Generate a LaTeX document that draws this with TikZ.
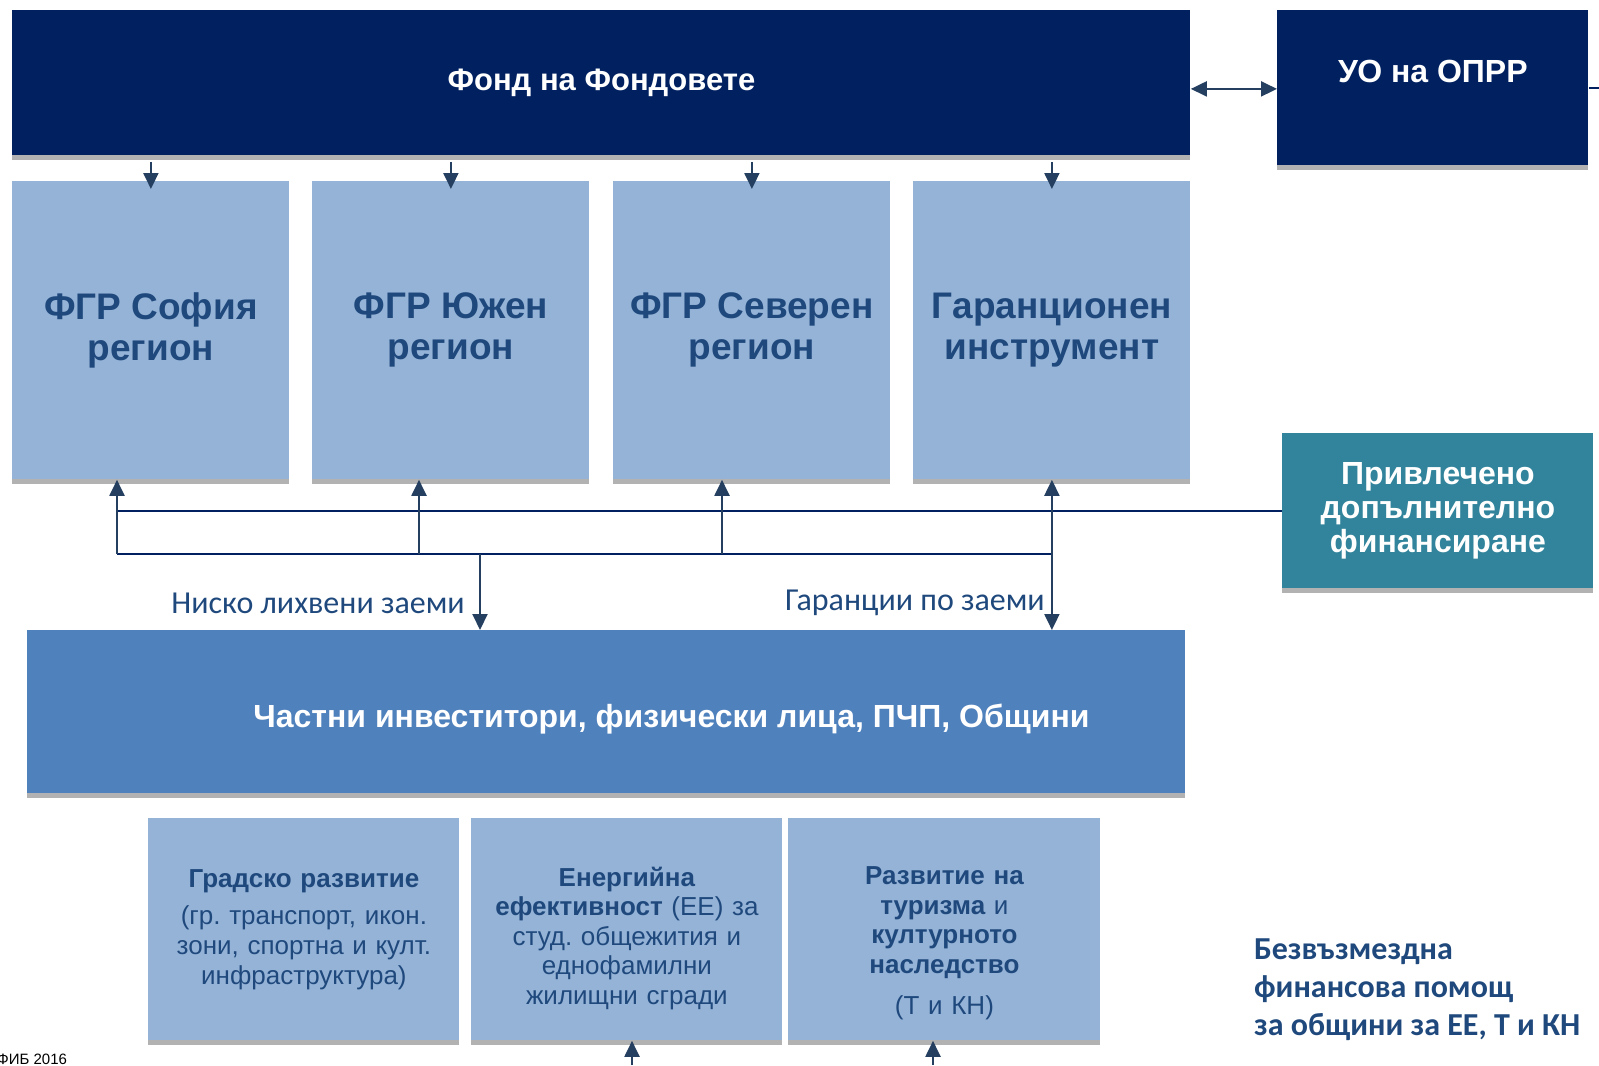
\documentclass[tikz,border=0pt]{standalone}
\usepackage{fontspec}
\setmainfont{Liberation Sans}
\newfontfamily\calfont{Carlito}
\usetikzlibrary{positioning, arrows.meta, shadows}
\definecolor{navyfill}{HTML}{002060}
\definecolor{lightfill}{HTML}{95B3D7}
\definecolor{midfill}{HTML}{4F81BD}
\definecolor{tealfill}{HTML}{31849B}
\definecolor{darktext}{HTML}{1F497D}
\definecolor{arrowc}{HTML}{243F60}
\frenchspacing

\begin{document}
\begin{tikzpicture}[x=0.5pt, y=-0.5pt,
    boxshade/.style={drop shadow={shadow xshift=0pt, shadow yshift=-2.5pt, fill=black!30, opacity=1}},
    anybox/.style={boxshade, anchor=north west, inner sep=0pt, align=center},
    navybox/.style={anybox, fill=navyfill, text=white, font=\bfseries\fontsize{15.5}{18}\selectfont},
    fundbox/.style={anybox, fill=lightfill, text=darktext, minimum width=138.5pt, minimum height=149pt,
        font=\bfseries\fontsize{18.5}{20.5}\selectfont},
    areabox/.style={anybox, fill=lightfill, minimum height=111pt},
    areatext/.style={text=darktext, text width=152pt, align=center, inner sep=0pt,
        font=\fontsize{13}{14.8}\selectfont},
    arr/.style={draw=arrowc, line width=1pt, -{Triangle[width=7.5pt,length=8pt]}},
    darr/.style={arr, {Triangle[width=7.5pt,length=8pt]}-{Triangle[width=7.5pt,length=8pt]}},
    navyline/.style={draw=navyfill, line width=1.2pt},
    lab/.style={text=darktext, font=\calfont\fontsize{16}{19}\selectfont, inner sep=0pt}]
    \useasboundingbox (0,0) rectangle (1599,1065);

    \node[navybox, minimum width=589pt, minimum height=72.5pt] (fond) at (12,10) {Фонд на Фондовете};
    \node[navybox, minimum width=155.5pt, minimum height=77.5pt,
        label={[text=white, font=\bfseries\fontsize{16}{19}\selectfont, yshift=8pt]center:УО на ОПРР}] (uo) at (1277,10) {};

    \node[fundbox] (b1) at (12,181)  {ФГР София\\регион};
    \node[fundbox] (b2) at (312,181) {ФГР Южен\\регион};
    \node[fundbox] (b3) at (613,181) {ФГР Северен\\регион};
    \node[fundbox] (b4) at (913,181) {Гаранционен\\инструмент};

    \node[anybox, fill=tealfill, text=white, minimum width=155.5pt, minimum height=77.5pt,
        font=\bfseries\fontsize{16}{17}\selectfont] (extra) at (1282,433) {Привлечено\\допълнително\\финансиране};

    \node[anybox, fill=midfill, minimum width=579pt, minimum height=81.5pt,
        label={[text=white, font=\bfseries\fontsize{16}{19}\selectfont, xshift=32.5pt, yshift=-3.75pt]center:Частни инвеститори, физически лица, ПЧП, Общини}] (inv) at (27,630) {};

    \node[lab, anchor=east] (lowlab) at (465,603) {Ниско лихвени заеми};
    \node[lab, anchor=east] (guarlab) at (1045,603) {Гаранции по заеми};

    \node[areabox, minimum width=155.5pt,
        label={[areatext, yshift=0pt]center:{\bfseries Градско развитие}\\[4pt](гр. транспорт, икон.\\зони, спортна и култ.\\инфраструктура)}] (d1) at (148,818) {};
    \node[areabox, minimum width=155.5pt,
        label={[areatext, yshift=-4.5pt]center:{\bfseries Енергийна}\\{\bfseries ефективност} (ЕЕ) за\\студ. общежития и\\еднофамилни\\жилищни сгради}] (d2) at (471,818) {};
    \node[areabox, minimum width=156pt,
        label={[areatext, yshift=-7pt]center:{\bfseries Развитие на}\\{\bfseries туризма} и\\{\bfseries културното}\\{\bfseries наследство}\\[6pt](Т и КН)}] (d3) at (788,818) {};

    \node[anchor=west, align=left, text=darktext, font=\calfont\bfseries\fontsize{16}{19}\selectfont] (grant) at (1247,990)
        {Безвъзмездна\\финансова помощ\\за общини за ЕЕ, Т и КН};
    \node[anchor=west, inner sep=0pt, font=\fontsize{7.5}{8}\selectfont] (fib) at (-3,1059) {ФИБ 2016};

    \foreach \b in {b1,b2,b3,b4}
        \draw[arr] ([yshift=-3pt]fond.south -| \b.north) -- ([yshift=-4pt]\b.north);
    \draw[darr] ([yshift=-3pt]fond.east) -- ([yshift=-3pt]fond.east -| uo.west);
    \coordinate (rim) at (1599,87);
    \draw[navyline] (uo.east) -- (uo.east -| rim);

    \coordinate (j1) at (117,554);
    \coordinate (j2) at (419,554);
    \coordinate (j3) at (722,554);
    \coordinate (j4) at (b4.south |- j1);
    \coordinate (jl) at (480,554);
    \draw[navyline] (extra.west) -- (extra.west -| j1);
    \draw[navyline] (j1) -- (j4);
    \draw[arr] (j1) -- (j1 |- b1.south);
    \draw[arr] (j2) -- (j2 |- b2.south);
    \draw[arr] (j3) -- (j3 |- b3.south);
    \draw[darr] (b4.south) -- (b4.south |- inv.north);
    \draw[arr] (jl) -- (jl |- inv.north);

    \coordinate (e2) at (632,1065);
    \coordinate (e3) at (933,1065);
    \draw[arr] (e2) -- (e2 |- d2.south);
    \draw[arr] (e3) -- (e3 |- d3.south);
\end{tikzpicture}
\end{document}
